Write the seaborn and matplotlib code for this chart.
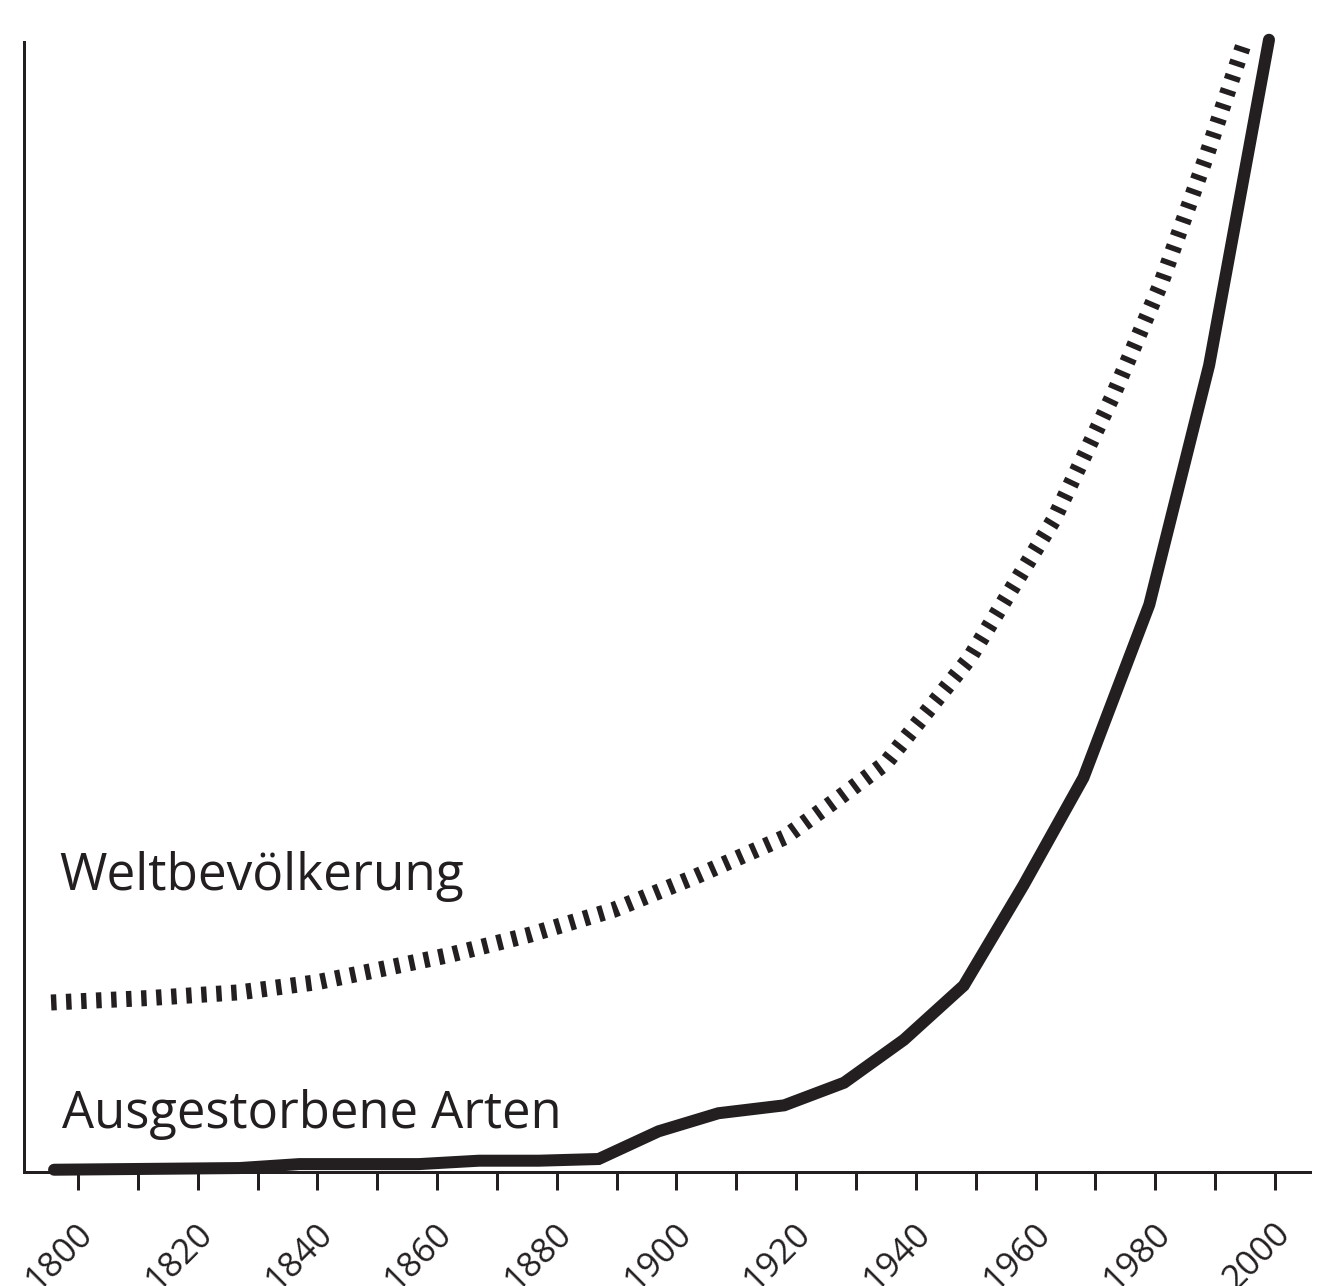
import matplotlib
matplotlib.use("Agg")
import matplotlib.pyplot as plt
import matplotlib.transforms as mtransforms
import seaborn as sns
import pandas as pd

# ---- data (arbitrary units 0..100) ----
years_arten = [1796, 1827, 1837, 1857, 1867, 1877, 1887, 1897, 1907, 1918,
               1928, 1938, 1948, 1958, 1968, 1979, 1989, 1999]
arten = [0.2, 0.35, 0.7, 0.7, 1.0, 1.0, 1.15, 3.6, 5.2, 5.9,
         7.9, 11.7, 16.5, 25.4, 34.9, 50.2, 71.4, 100.2]

years_welt = [1795.5, 1812, 1827, 1840, 1852, 1862, 1875.5, 1889.5, 1903, 1918,
              1925.6, 1935, 1949, 1963, 1973, 1981, 1988.6, 1995]
welt = [15.0, 15.4, 15.9, 16.8, 18.1, 19.2, 21.0, 23.2, 26.1, 29.6,
        32.5, 36.2, 45.5, 57.7, 68.8, 78.7, 90.0, 100.2]

major_ticks = list(range(1800, 2001, 20))
minor_ticks = list(range(1810, 2000, 20))
tick_labels = [str(y) for y in major_ticks]

label_welt = "Weltbevölkerung"
label_arten = "Ausgestorbene Arten"

INK = "#231f20"
W, H = 1329, 1286
DPI = 100

sns.set_style("ticks")
plt.rcParams['font.family'] = ['Open Sans', 'DejaVu Sans']

fig = plt.figure(figsize=(W / DPI, H / DPI), dpi=DPI)
ax = fig.add_axes([24 / W, (H - 1172) / H, (1310 - 24) / W, (1172 - 42) / H])

df_a = pd.DataFrame({"year": years_arten, "value": arten})
df_w = pd.DataFrame({"year": years_welt, "value": welt})

px = 72 / DPI  # points per pixel

sns.lineplot(data=df_w, x="year", y="value", ax=ax, color=INK,
             linewidth=16 * px, sort=False)
sns.lineplot(data=df_a, x="year", y="value", ax=ax, color=INK,
             linewidth=12 * px, sort=False)

lw, la = ax.lines[0], ax.lines[1]
lw.set_linestyle((0, (0.34, 0.6)))
lw.set_dash_capstyle("butt")
lw.set_clip_on(False)
la.set_solid_capstyle("round")
la.set_solid_joinstyle("miter")
la.set_clip_on(False)

ax.set_xlim(1790.98, 2005.85)
ax.set_ylim(0, 100)
ax.set_xlabel("")
ax.set_ylabel("")
ax.set_yticks([])

sns.despine(ax=ax, top=True, right=True)
for s in ("left", "bottom"):
    ax.spines[s].set_linewidth(3 * px)
    ax.spines[s].set_color(INK)

ax.set_xticks(major_ticks)
ax.set_xticks(minor_ticks, minor=True)
ax.set_xticklabels(tick_labels, rotation=45, ha="right", va="center",
                   rotation_mode="anchor", fontsize=25, color=INK)
ax.tick_params(axis="x", which="both", direction="out", length=18 * px,
               width=3 * px, color=INK, pad=38 * px)
offset = mtransforms.ScaledTranslation(10 / DPI, 0, fig.dpi_scale_trans)
for lab in ax.get_xticklabels():
    lab.set_transform(lab.get_transform() + offset)

ax.text(1796.8, 24.96, label_welt, fontsize=37, color=INK,
        ha="left", va="baseline")
ax.text(1797.4, 3.9, label_arten, fontsize=36.5, color=INK,
        ha="left", va="baseline")

fig.savefig("out.png", dpi=DPI, facecolor="white")
